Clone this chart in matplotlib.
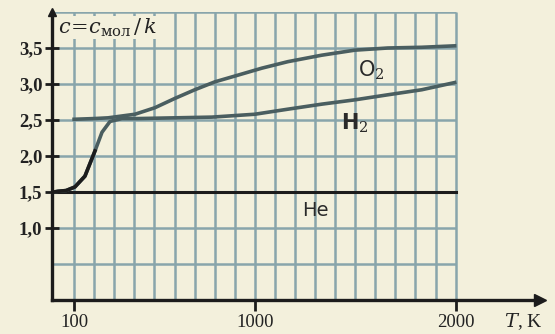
import matplotlib
matplotlib.use("Agg")
import matplotlib.pyplot as plt

# Data (T in K, c = c_mol / k)
t_o2 = [100, 200, 269, 403, 502, 602, 701, 801, 900, 1035, 1164, 1333, 1498, 1662, 1831, 1995]
c_o2 = [2.51, 2.52, 2.53, 2.58, 2.67, 2.80, 2.92, 3.03, 3.11, 3.22, 3.31, 3.40, 3.47, 3.50, 3.51, 3.53]

t_h2 = [0, 20, 60, 104, 154, 204, 239, 279, 338, 418, 600, 786, 1000, 1164, 1333, 1498, 1662, 1831, 1995]
c_h2 = [1.50, 1.51, 1.52, 1.57, 1.72, 2.07, 2.33, 2.48, 2.52, 2.52, 2.53, 2.54, 2.58, 2.65, 2.72, 2.78, 2.85, 2.92, 3.02]

t_he = [0, 2000]
c_he = [1.5, 1.5]

x_ticks = [100, 1000, 2000]
x_ticklabels = ["100", "1000", "2000"]
y_ticks = [1.0, 1.5, 2.0, 2.5, 3.0, 3.5]
y_ticklabels = ["1,0", "1,5", "2,0", "2,5", "3,0", "3,5"]

grid_x = list(range(100, 2001, 100))
grid_y = [0.5, 1.0, 1.5, 2.0, 2.5, 3.0, 3.5, 4.0]

paper = "#f3f0dc"
grid_c = "#88a5ab"
curve_c = "#4a5e60"
ink = "#1c1c1c"

plt.rcParams["mathtext.fontset"] = "dejavuserif"

fig = plt.figure(figsize=(5.55, 3.34), dpi=100, facecolor=paper)
ax = fig.add_axes([52/555, 1-300/334, (540-52)/555, (300-12)/334])
ax.set_facecolor(paper)
ax.set_xlim(-10, 2420)
ax.set_ylim(0, 4.0)

# grid
ax.vlines(grid_x, 0, 4.0, colors=grid_c, linewidth=1.8, zorder=1)
ax.hlines(grid_y, -10, 2000, colors=grid_c, linewidth=1.8, zorder=1)

# curves
ax.plot(t_he, c_he, color=ink, linewidth=2.2, zorder=3)
ax.plot(t_h2, c_h2, color=curve_c, linewidth=2.6, zorder=3, solid_joinstyle="round")
n_dark = 6
ax.plot(t_h2[:n_dark], c_h2[:n_dark], color=ink, linewidth=2.6, zorder=4, solid_joinstyle="round")
ax.plot(t_o2, c_o2, color=curve_c, linewidth=2.6, zorder=3, solid_joinstyle="round")

# spines
for s in ["top", "right"]:
    ax.spines[s].set_visible(False)
for s in ["left", "bottom"]:
    ax.spines[s].set_linewidth(2.4)
    ax.spines[s].set_color(ink)
    ax.spines[s].set_zorder(5)

# arrows
ax.plot(1, 0, marker=">", markersize=8, color=ink, transform=ax.transAxes, clip_on=False, zorder=6)
ax.plot(0, 1, marker="^", markersize=6, color=ink, transform=ax.transAxes, clip_on=False, zorder=6)

# ticks
serif = "Liberation Serif"
ax.set_xticks(x_ticks)
ax.set_xticklabels(x_ticklabels, fontsize=13.5, family=serif, color="#222222")
ax.set_yticks(y_ticks)
ax.set_yticklabels(y_ticklabels, fontsize=13.5, family=serif, fontweight="bold", color="#222222")
ax.tick_params(axis="x", direction="out", length=8, width=2, pad=2, color=ink)
ax.tick_params(axis="y", direction="inout", length=10, width=2, pad=2, color=ink)

# labels
ax.text(0.012, 0.985, r"$c\!=\!c_{\mathrm{мол}}\,/\,k$", transform=ax.transAxes,
        fontsize=15, va="top", ha="left", color="#222222", zorder=7,
        bbox=dict(facecolor=paper, edgecolor="none", pad=0.5))
fig.text(523/555, 1-322/334, r"$T$, K", fontsize=14, family=serif, ha="center", va="center", color="#222222")

ax.text(1515, 3.19, r"O$_2$", fontsize=15, family="DejaVu Sans", ha="left", va="center", color="#2a2a2a", zorder=7)
ax.text(1430, 2.45, r"H$_2$", fontsize=15, family="DejaVu Sans", fontweight="bold", ha="left", va="center", color="#2a2a2a", zorder=7)
ax.text(1235, 1.25, "He", fontsize=14, family="DejaVu Sans", ha="left", va="center", color="#2a2a2a", zorder=7)

fig.savefig("out.png", dpi=100, facecolor=paper)
